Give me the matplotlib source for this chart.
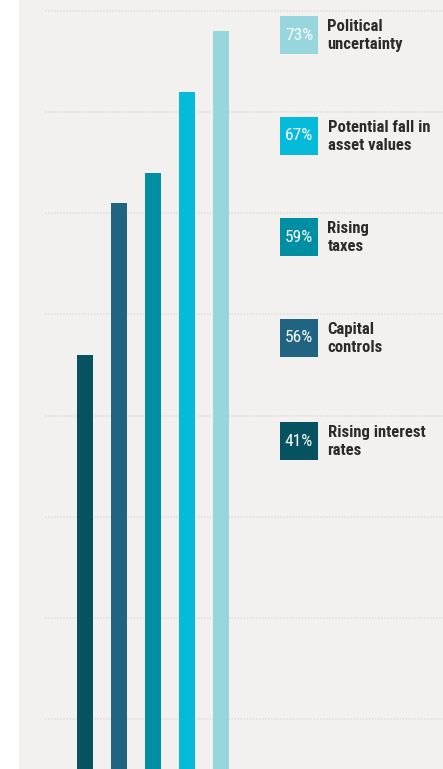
import matplotlib
matplotlib.use("Agg")
import matplotlib.pyplot as plt
from matplotlib.patches import Rectangle

# Data (bars left to right)
categories = ["Rising interest rates", "Capital controls", "Rising taxes",
              "Potential fall in asset values", "Political uncertainty"]
values = [41, 56, 59, 67, 73]
colors = ["#075260", "#206482", "#008ea2", "#06bbda", "#96d6dc"]

# Legend (top to bottom)
legend_labels = ["Political\nuncertainty", "Potential fall in\nasset values",
                 "Rising\ntaxes", "Capital\ncontrols", "Rising interest\nrates"]
legend_values = ["73%", "67%", "59%", "56%", "41%"]
legend_colors = ["#96d6dc", "#06bbda", "#008ea2", "#206482", "#075260"]

grid_levels = [5, 15, 25, 35, 45, 55, 65, 75]

FONT = ["Roboto Condensed", "Liberation Sans", "DejaVu Sans"]

W, H = 443, 769
fig = plt.figure(figsize=(W / 100, H / 100), dpi=100)
fig.patch.set_facecolor("white")

ax = fig.add_axes([19 / W, -1 / H, (W - 19) / W, 770 / H])
ax.set_facecolor("#f2f1ef")
xs = list(range(len(values)))
ax.set_xlim(-(85 - 19) / 34, (443 - 85) / 34)
ax.set_ylim(0, 76.05)
ax.hlines(grid_levels, xmin=(45 - 85) / 34, xmax=(443 - 85) / 34,
          colors="#e0dedc", linestyles=(0, (1.0, 1.0)), linewidth=1.1, zorder=1)
ax.bar(xs, values, width=16 / 34, color=colors, zorder=2)
for s in ax.spines.values():
    s.set_visible(False)
ax.set_xticks([])
ax.set_yticks([])

# Legend
sq_tops = [16, 117, 218, 319, 422]
for top, lab, val, col in zip(sq_tops, legend_labels, legend_values, legend_colors):
    fig.patches.append(Rectangle((280 / W, 1 - (top + 38) / H), 38 / W, 38 / H,
                                 transform=fig.transFigure, facecolor=col,
                                 edgecolor="none", zorder=5))
    cy = 1 - (top + 19) / H
    fig.text(299 / W, cy, val, ha="center", va="center", color="white",
             fontsize=12.5, family=FONT, fontweight="normal", zorder=6)
    fig.text(327.5 / W, cy - 0.5 / H, lab, ha="left", va="center", color="#2b2b2b",
             fontsize=12, fontweight="bold", family=FONT, linespacing=1.27,
             zorder=6)

fig.savefig("out.png", dpi=100, facecolor=fig.get_facecolor())
